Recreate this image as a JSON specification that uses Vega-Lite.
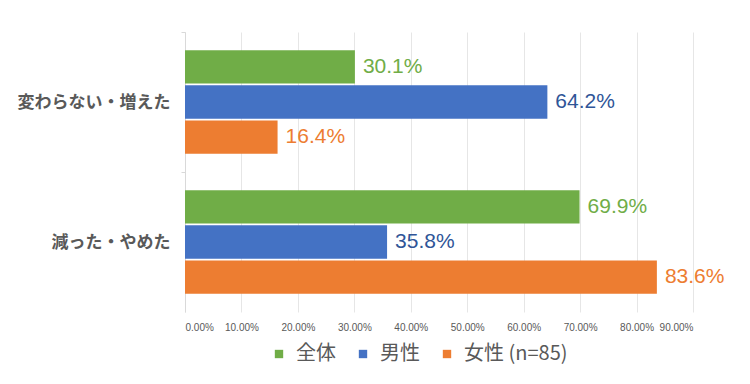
{
  "$schema": "https://vega.github.io/schema/vega-lite/v6.json",
  "width": 508,
  "height": 280,
  "autosize": "none",
  "padding": {"left": 185, "top": 32, "right": 57, "bottom": 72},
  "background": "white",
  "config": {"view": {"stroke": null}, "font": "Liberation Sans"},
  "data": {
    "values": [
      {"cat": "変わらない・増えた", "series": "全体", "value": 0.301},
      {"cat": "変わらない・増えた", "series": "男性", "value": 0.642},
      {"cat": "変わらない・増えた", "series": "女性 (n=85)", "value": 0.164},
      {"cat": "減った・やめた", "series": "全体", "value": 0.699},
      {"cat": "減った・やめた", "series": "男性", "value": 0.358},
      {"cat": "減った・やめた", "series": "女性 (n=85)", "value": 0.836}
    ]
  },
  "encoding": {
    "y": {
      "field": "cat",
      "type": "nominal",
      "sort": ["変わらない・増えた", "減った・やめた"],
      "scale": {"paddingInner": 0.26, "paddingOuter": 0.13},
      "axis": {
        "title": null,
        "domainColor": "#d9d9d9",
        "tickColor": "#d9d9d9",
        "tickSize": 4,
        "tickOffset": -70,
        "tickExtra": true,
        "labelOffset": 70,
        "labelPadding": 11,
        "labelFont": "Noto Sans CJK JP",
        "labelFontSize": 17,
        "labelFontWeight": "bold",
        "labelColor": "#595959",
        "grid": false
      }
    },
    "yOffset": {
      "field": "series",
      "type": "nominal",
      "sort": ["全体", "男性", "女性 (n=85)"],
      "scale": {"paddingInner": 0.05}
    },
    "x": {
      "field": "value",
      "type": "quantitative",
      "scale": {"domain": [0, 0.9], "nice": false},
      "axis": {
        "title": null,
        "format": ".2%",
        "values": [0, 0.1, 0.2, 0.3, 0.4, 0.5, 0.6, 0.7, 0.8, 0.9],
        "domain": false,
        "ticks": false,
        "labelPadding": 10,
        "labelFontSize": 10,
        "labelColor": "#595959",
        "labelFont": "Liberation Sans",
        "gridColor": "#e6e6e6",
        "gridWidth": 1
      }
    }
  },
  "layer": [
    {
      "mark": {"type": "bar"},
      "encoding": {
        "color": {
          "field": "series",
          "type": "nominal",
          "scale": {"domain": ["全体", "男性", "女性 (n=85)"], "range": ["#70AD47", "#4472C4", "#ED7D31"]},
          "legend": {
            "title": null,
            "orient": "none",
            "direction": "horizontal",
            "legendX": 84,
            "legendY": 312,
            "symbolType": "square",
            "symbolSize": 70,
            "symbolStrokeWidth": 0,
            "labelFont": "Noto Sans CJK JP",
            "labelFontSize": 20,
            "labelColor": "#595959",
            "labelOffset": 7,
            "columnPadding": 17
          }
        }
      }
    },
    {
      "mark": {"type": "text", "align": "left", "baseline": "middle", "dx": 8, "fontSize": 21, "font": "Liberation Sans"},
      "encoding": {
        "text": {"field": "value", "type": "quantitative", "format": ".1%"},
        "color": {
          "field": "series",
          "type": "nominal",
          "scale": {"domain": ["全体", "男性", "女性 (n=85)"], "range": ["#70AD47", "#2F5597", "#ED7D31"]},
          "legend": null
        }
      }
    }
  ],
  "resolve": {"scale": {"color": "independent"}}
}
